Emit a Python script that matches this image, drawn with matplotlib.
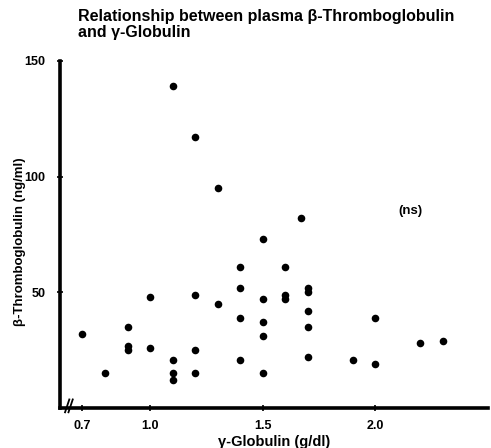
import matplotlib
matplotlib.use("Agg")
import matplotlib.pyplot as plt

plt.rcParams['font.family'] = ['Liberation Sans', 'DejaVu Sans']

# gamma-globulin (g/dl)
x_vals = [1.10, 1.20, 1.30, 1.67, 1.50,
          0.70, 0.80, 0.90, 0.90, 0.90, 1.00, 1.00,
          1.10, 1.10, 1.10, 1.20, 1.20, 1.20, 1.30,
          1.40, 1.40, 1.40, 1.40, 1.50, 1.50, 1.50, 1.50,
          1.60, 1.60, 1.60, 1.70, 1.70, 1.70, 1.70, 1.70,
          1.90, 2.00, 2.00, 2.20, 2.30]
# beta-thromboglobulin (ng/ml)
y_vals = [139, 117, 95, 82, 73,
          32, 15, 35, 27, 25, 48, 26,
          21, 15, 12, 49, 25, 15, 45,
          61, 52, 39, 21, 47, 37, 31, 15,
          61, 49, 47, 52, 50, 42, 35, 22,
          21, 39, 19, 28, 29]

x_ticks = [0.7, 1.0, 1.5, 2.0]
x_ticklabels = ["0.7", "1.0", "1.5", "2.0"]
y_ticks = [50, 100, 150]
y_ticklabels = ["50", "100", "150"]

fig = plt.figure(figsize=(4.91, 4.48), dpi=100)
ax = fig.add_axes([0.122, 0.089, 0.872, 0.775])
ax.scatter(x_vals, y_vals, s=30, color='black', zorder=3, linewidths=0)

ax.set_xlim(0.6, 2.5)
ax.set_ylim(0, 150)
ax.spines['top'].set_visible(False)
ax.spines['right'].set_visible(False)
for s in ('left', 'bottom'):
    ax.spines[s].set_linewidth(2.6)

ax.set_xticks(x_ticks)
ax.set_xticklabels(x_ticklabels, fontsize=9, fontweight='bold')
ax.set_yticks(y_ticks)
ax.set_yticklabels(y_ticklabels, fontsize=9, fontweight='bold')
ax.tick_params(axis='x', direction='inout', length=5, width=1.2, pad=6)
ax.tick_params(axis='y', direction='inout', length=5, width=1.2, pad=8)

# axis break mark
for dx in (0.0, 0.008):
    ax.plot([0.012 + dx, 0.022 + dx], [-0.012, 0.025], transform=ax.transAxes,
            color='black', lw=1.3, clip_on=False, zorder=5)

ax.text(2.1, 84, "(ns)", fontsize=9.5, fontweight='bold')

ax.set_xlabel("γ-Globulin (g/dl)", fontsize=10.5, fontweight='bold', labelpad=2)
ax.set_ylabel("β-Thromboglobulin (ng/ml)", fontsize=9.5, fontweight='bold')
ax.yaxis.set_label_coords(-0.08, 0.48)

fig.text(0.159, 0.98, "Relationship between plasma β-Thromboglobulin\nand γ-Globulin",
         fontsize=11.5, fontweight='bold', ha='left', va='top', linespacing=1.05)

fig.savefig("out.png", dpi=100)
